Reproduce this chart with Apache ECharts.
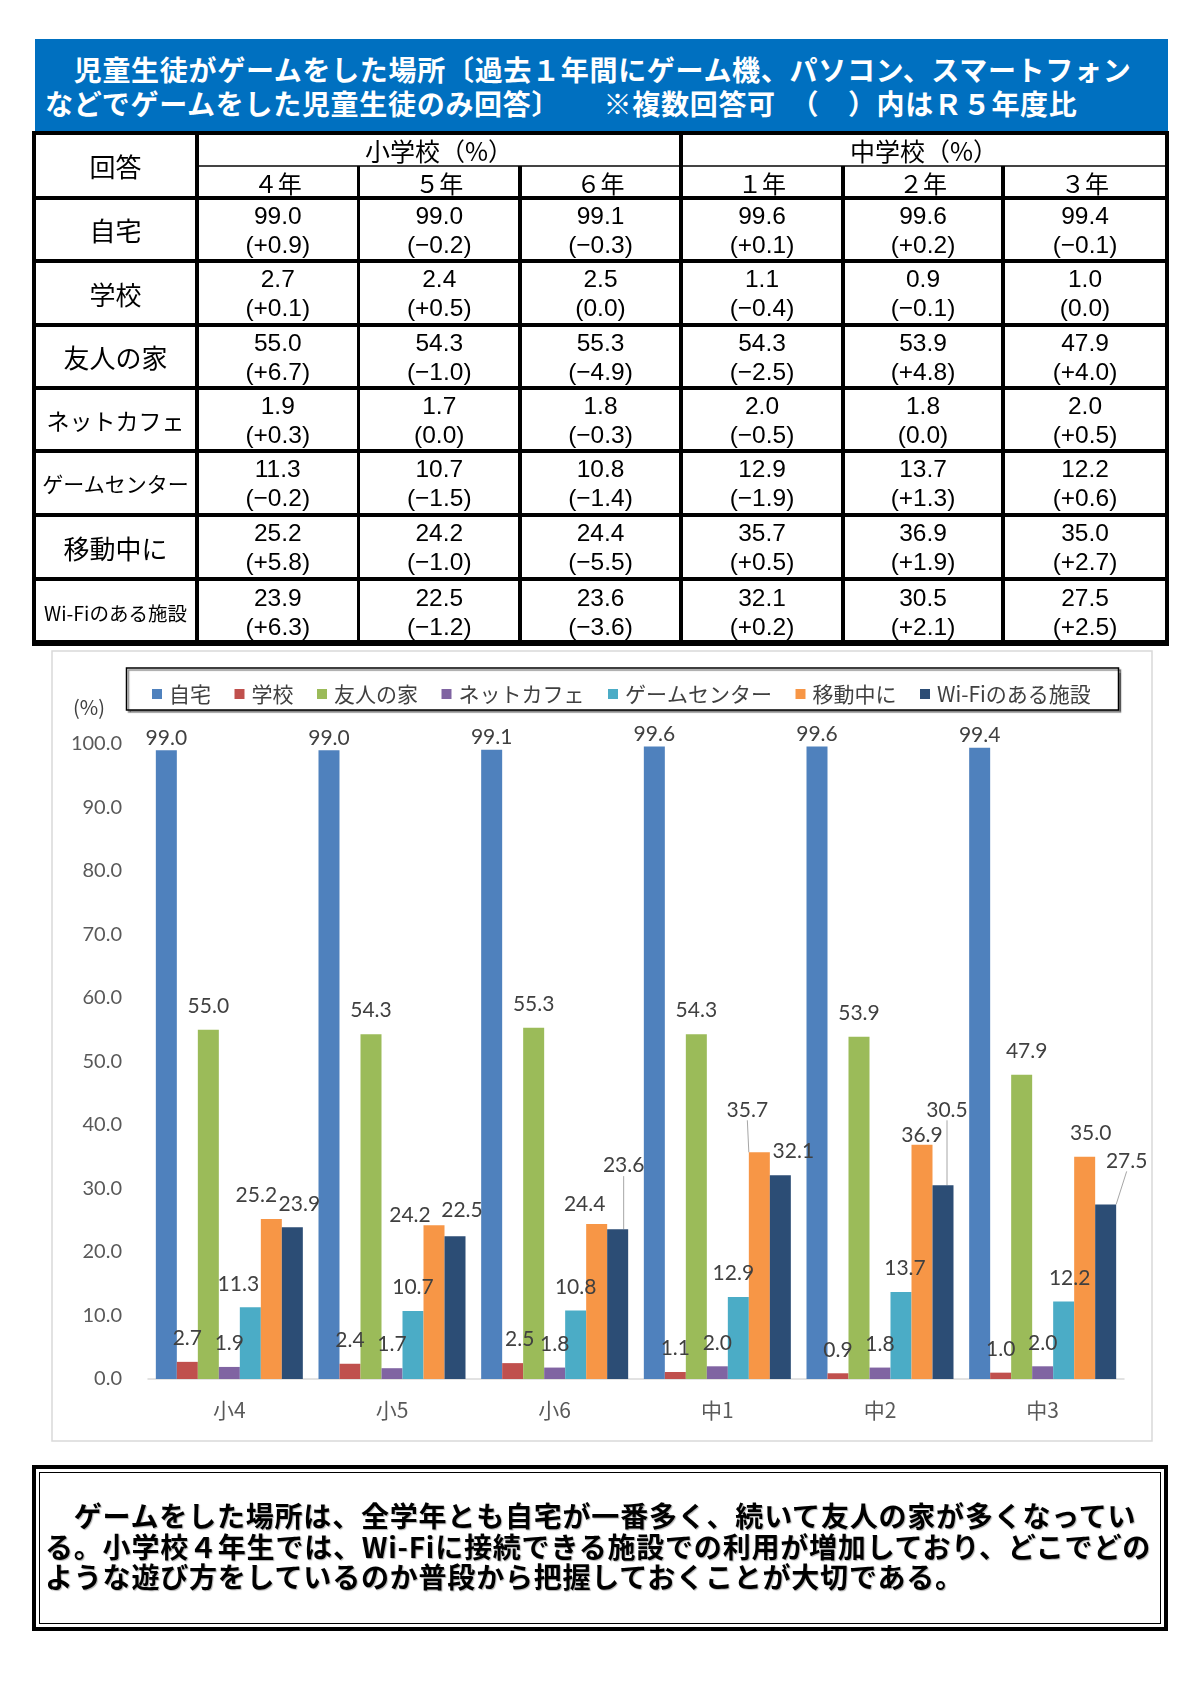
<!DOCTYPE html>
<html lang="ja">
<head>
<meta charset="utf-8">
<title>児童生徒がゲームをした場所</title>
<script src="https://cdn.jsdelivr.net/npm/echarts@6/dist/echarts.min.js"></script>
<style>
  html, body { margin: 0; padding: 0; background: #fff; }
  body { width: 1200px; height: 1682px; position: relative; overflow: hidden;
         font-family: "Noto Sans CJK JP", "Noto Sans", sans-serif; }
  #chart { position: absolute; left: 0; top: 0; width: 1200px; height: 1682px; }
  .abs { position: absolute; }
  #titleBox { left: 35px; top: 39px; width: 1133px; height: 94px; background: #0070C0; }
  #titleText { left: 10px; top: 13px; color: #fff; font-weight: bold; font-size: 28px;
               line-height: 34px; letter-spacing: 0.7px; white-space: nowrap; }
  .cell { position: absolute; display: flex; flex-direction: column; align-items: center;
          justify-content: center; color: #000; white-space: nowrap; text-align: center; }
  .num { font-family: "Liberation Sans", "Noto Sans", sans-serif; font-size: 24.5px; line-height: 29px; }
  .line { position: absolute; background: #000; }
  #noteOuter { left: 32px; top: 1465px; width: 1136px; height: 166px; border: 4px solid #000; box-sizing: border-box; }
  #noteInner { left: 39px; top: 1472px; width: 1122px; height: 152px; border: 1.5px solid #000; box-sizing: border-box; }
  #noteText { left: 45px; top: 1500px; font-weight: bold; font-size: 28px; line-height: 30.6px;
              letter-spacing: 0.8px; white-space: nowrap; color: #000;
              text-shadow: 1px 1px 1px rgba(0,0,0,0.3); }
</style>
</head>
<body>
<div id="chart"></div>
<div id="titleBox" class="abs"><div id="titleText" class="abs"></div></div>
<div id="table"></div>
<div id="noteOuter" class="abs"></div>
<div id="noteInner" class="abs"></div>
<div id="noteText" class="abs"></div>
<script>
// ---------------- data ----------------
const titleLines = [
  '　児童生徒がゲームをした場所〔過去１年間にゲーム機、パソコン、スマートフォン',
  'などでゲームをした児童生徒のみ回答〕　　※複数回答可　（　）内はＲ５年度比'
];
const noteLines = [
  '　ゲームをした場所は、全学年とも自宅が一番多く、続いて友人の家が多くなってい',
  'る。小学校４年生では、Wi-Fiに接続できる施設での利用が増加しており、どこでどの',
  'ような遊び方をしているのか普段から把握しておくことが大切である。'
];
const categories = ['小4', '小5', '小6', '中1', '中2', '中3'];
const gradeLabels = ['４年', '５年', '６年', '１年', '２年', '３年'];
const schoolLabels = ['小学校（%）', '中学校（%）'];
const answerHeader = '回答';
const seriesNames = ['自宅', '学校', '友人の家', 'ネットカフェ', 'ゲームセンター', '移動中に', 'Wi-Fiのある施設'];

const home       = [99.0, 99.0, 99.1, 99.6, 99.6, 99.4];
const school     = [2.7, 2.4, 2.5, 1.1, 0.9, 1.0];
const friend     = [55.0, 54.3, 55.3, 54.3, 53.9, 47.9];
const netCafe    = [1.9, 1.7, 1.8, 2.0, 1.8, 2.0];
const gameCenter = [11.3, 10.7, 10.8, 12.9, 13.7, 12.2];
const moving     = [25.2, 24.2, 24.4, 35.7, 36.9, 35.0];
const wifi       = [23.9, 22.5, 23.6, 32.1, 30.5, 27.5];

// change from R5 (percentage points)
const homeDiff       = [0.9, -0.2, -0.3, 0.1, 0.2, -0.1];
const schoolDiff     = [0.1, 0.5, 0.0, -0.4, -0.1, 0.0];
const friendDiff     = [6.7, -1.0, -4.9, -2.5, 4.8, 4.0];
const netCafeDiff    = [0.3, 0.0, -0.3, -0.5, 0.0, 0.5];
const gameCenterDiff = [-0.2, -1.5, -1.4, -1.9, 1.3, 0.6];
const movingDiff     = [5.8, -1.0, -5.5, 0.5, 1.9, 2.7];
const wifiDiff       = [6.3, -1.2, -3.6, 0.2, 2.1, 2.5];

const seriesValues = [home, school, friend, netCafe, gameCenter, moving, wifi];
const seriesDiffs = [homeDiff, schoolDiff, friendDiff, netCafeDiff, gameCenterDiff, movingDiff, wifiDiff];

// ---------------- styles / layout ----------------
const colors = ['#4F81BD', '#C0504D', '#9BBB59', '#8064A2', '#4BACC6', '#F79646', '#2C4D75'];
const rowLabelFont = [26, 26, 26, 23, 21, 26, 19.5];
// label nudges "series-dataIndex": [dx, dy, leaderLine]
const labelNudge = {
  '4-0': [-12, 0], '5-0': [-15, 0], '6-0': [7, 0],
  '5-1': [-24, 13], '6-1': [7, -2],
  '1-2': [7, 0], '5-2': [-12, 4], '6-2': [6, -40, true],
  '4-3': [-5, 0], '5-3': [-12, -19, true], '6-3': [13, 0],
  '4-4': [4, 0], '5-4': [0, 14], '6-4': [4, -52, true],
  '2-5': [5, 0], '4-5': [6, 0], '5-5': [6, 0], '6-5': [21, -20, true]
};

// ---------------- title & note ----------------
document.getElementById('titleText').innerHTML = titleLines.join('<br>');
document.getElementById('noteText').innerHTML = noteLines.join('<br>');

// ---------------- table ----------------
const colX = [34, 197, 358.5, 520, 681, 843, 1003, 1167];
const rowY = [133, 166, 198, 261, 325, 388, 451, 515, 579, 645];
const tbl = document.getElementById('table');
function cell(x1, x2, y1, y2, html, cls, fs) {
  const d = document.createElement('div');
  d.className = 'cell' + (cls ? ' ' + cls : '');
  d.style.left = x1 + 'px'; d.style.top = y1 + 'px';
  d.style.width = (x2 - x1) + 'px'; d.style.height = (y2 - y1) + 'px';
  if (fs) d.style.fontSize = fs + 'px';
  d.innerHTML = html;
  tbl.appendChild(d);
}
function hline(x1, x2, y, t, c) {
  const d = document.createElement('div'); d.className = 'line';
  d.style.left = x1 + 'px'; d.style.top = (y - t / 2) + 'px';
  d.style.width = (x2 - x1) + 'px'; d.style.height = t + 'px';
  if (c) d.style.background = c;
  tbl.appendChild(d);
}
function vline(x, y1, y2, t) {
  const d = document.createElement('div'); d.className = 'line';
  d.style.left = (x - t / 2) + 'px'; d.style.top = y1 + 'px';
  d.style.width = t + 'px'; d.style.height = (y2 - y1) + 'px';
  tbl.appendChild(d);
}
function fmtDiff(v) {
  if (v > 0) return '(+' + v.toFixed(1) + ')';
  if (v < 0) return '(\u2212' + Math.abs(v).toFixed(1) + ')';
  return '(0.0)';
}
cell(colX[0], colX[1], rowY[0], rowY[2], answerHeader, '', 26);
cell(colX[1], colX[4], rowY[0], rowY[1], schoolLabels[0], '', 25);
cell(colX[4], colX[7], rowY[0], rowY[1], schoolLabels[1], '', 25);
gradeLabels.forEach((g, i) => cell(colX[i + 1], colX[i + 2], rowY[1], rowY[2], g, '', 24));
seriesNames.forEach((name, r) => {
  cell(colX[0], colX[1], rowY[r + 2], rowY[r + 3], name, '', rowLabelFont[r]);
  seriesValues[r].forEach((v, c) => {
    cell(colX[c + 1], colX[c + 2], rowY[r + 2], rowY[r + 3],
      '<div>' + v.toFixed(1) + '</div><div>' + fmtDiff(seriesDiffs[r][c]) + '</div>', 'num');
  });
});
hline(colX[1], colX[7], rowY[1], 2, '#444');
for (let i = 2; i <= 8; i++) hline(colX[0], colX[7], rowY[i], 3.5);
vline(colX[1], rowY[0], rowY[9], 3.5);
vline(colX[4], rowY[0], rowY[9], 3.5);
[2, 3, 5, 6].forEach(i => vline(colX[i], rowY[1], rowY[9], 3.5));
// outer frame
hline(colX[0] - 2, colX[7] + 2, rowY[0], 4.5);
hline(colX[0] - 2, colX[7] + 2, rowY[9] - 2, 6);
vline(colX[0], rowY[0], rowY[9], 4);
vline(colX[7], rowY[0], rowY[9], 4);

// ---------------- chart ----------------
const chart = echarts.init(document.getElementById('chart'), null, { renderer: 'canvas' });
const series = seriesNames.map((name, si) => ({
  name: name,
  type: 'bar',
  barWidth: 21,
  barGap: '0%',
  itemStyle: { color: colors[si] },
  data: seriesValues[si].map((v, di) => {
    const n = labelNudge[si + '-' + di];
    const item = { value: v };
    if (n && n[2]) item.labelLine = { show: true, lineStyle: { color: '#A6A6A6', width: 1 } };
    return item;
  }),
  label: {
    show: true, position: 'top', distance: si === 0 ? 2 : 13,
    formatter: p => p.value.toFixed(1),
    color: '#404040', fontSize: 21, lineHeight: 21, fontFamily: 'Lato, "Noto Sans", sans-serif'
  },
  labelLayout: function (params) {
    const n = labelNudge[si + '-' + params.dataIndex];
    return n ? { dx: n[0], dy: n[1] } : {};
  }
}));

chart.setOption({
  animation: false,
  backgroundColor: 'transparent',
  graphic: [
    { type: 'rect', z: 0, shape: { x: 52, y: 651, width: 1100, height: 790 },
      style: { fill: '#fff', stroke: '#D9D9D9', lineWidth: 1.5 } },
    { type: 'rect', z: 1, shape: { x: 126.5, y: 668, width: 992, height: 42 },
      style: { fill: '#fff', stroke: '#000', lineWidth: 1.5,
               shadowColor: 'rgba(0,0,0,0.45)', shadowOffsetX: 2, shadowOffsetY: 2, shadowBlur: 1 } },
    { type: 'text', z: 2, x: 89, y: 707,
      style: { text: '(%)', fill: '#404040', fontSize: 20, fontFamily: '"Noto Sans CJK JP", sans-serif',
               align: 'center', verticalAlign: 'middle' } }
  ],
  legend: {
    left: 147, top: 677, itemWidth: 10, itemHeight: 10, itemGap: 23.5, icon: 'rect',
    data: seriesNames,
    textStyle: { fontSize: 21, lineHeight: 24, color: '#404040', fontFamily: '"Noto Sans CJK JP", sans-serif',
                 padding: [0, 0, 0, 2] }
  },
  grid: { left: 148, right: 76, top: 744, bottom: 303, containLabel: false },
  xAxis: {
    type: 'category', data: categories,
    axisLine: { show: true, lineStyle: { color: '#D9D9D9', width: 1.5 } },
    axisTick: { show: false },
    axisLabel: { color: '#595959', fontSize: 21, margin: 21, fontFamily: '"Noto Sans CJK JP", sans-serif' }
  },
  yAxis: {
    type: 'value', min: 0, max: 100, interval: 10,
    axisLine: { show: false }, axisTick: { show: false }, splitLine: { show: false },
    axisLabel: { color: '#595959', fontSize: 20, margin: 26, fontFamily: 'Lato, "Noto Sans", sans-serif',
                 formatter: v => v.toFixed(1) }
  },
  series: series
});
</script>
</body>
</html>
